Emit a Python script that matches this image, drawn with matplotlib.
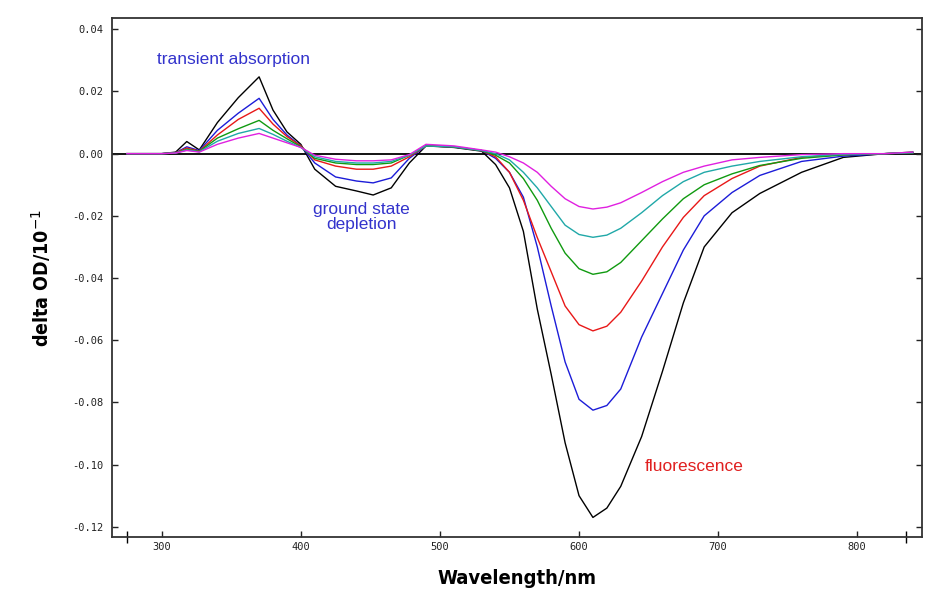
import matplotlib
matplotlib.use("Agg")
import matplotlib.pyplot as plt
from matplotlib.ticker import FixedLocator, FormatStrFormatter

plt.rcParams['axes.unicode_minus'] = False

wavelength = [275, 300, 310, 318, 327, 340, 355, 370, 380, 390, 400, 410, 425, 440, 452,
              465, 478, 490, 510, 530, 540, 550, 560, 570, 580, 590, 600, 610, 620, 630,
              645, 660, 675, 690, 710, 730, 760, 790, 820, 840]

od_black = [0, 0, 0.0005, 0.0039, 0.0012, 0.010, 0.018, 0.0247, 0.014, 0.007, 0.003, -0.005,
            -0.0105, -0.012, -0.0133, -0.011, -0.003, 0.0025, 0.002, 0.0008, -0.0035, -0.011,
            -0.025, -0.050, -0.071, -0.093, -0.110, -0.117, -0.114, -0.107, -0.091, -0.070,
            -0.048, -0.030, -0.019, -0.0128, -0.006, -0.0012, 0.0, 0.0005]
od_blue = [0, 0, 0.0003, 0.0022, 0.001, 0.0075, 0.013, 0.0178, 0.011, 0.006, 0.0025, -0.003,
           -0.0075, -0.0088, -0.0094, -0.0078, -0.0015, 0.0025, 0.0022, 0.001, -0.0015, -0.006,
           -0.014, -0.030, -0.049, -0.067, -0.079, -0.0825, -0.081, -0.0757, -0.059, -0.045,
           -0.031, -0.020, -0.0125, -0.007, -0.0025, -0.0008, 0.0, 0.0003]
od_red = [0, 0, 0.0003, 0.0018, 0.0008, 0.006, 0.011, 0.0146, 0.0095, 0.0055, 0.0025, -0.002,
          -0.004, -0.005, -0.005, -0.004, -0.001, 0.0025, 0.0022, 0.001, -0.001, -0.006,
          -0.015, -0.027, -0.038, -0.049, -0.055, -0.057, -0.0555, -0.051, -0.041, -0.030,
          -0.0205, -0.0135, -0.008, -0.004, -0.0012, -0.0003, 0.0, 0.0003]
od_green = [0, 0, 0.0002, 0.0014, 0.0007, 0.005, 0.008, 0.0107, 0.0075, 0.0048, 0.0022, -0.0015,
            -0.003, -0.0035, -0.0035, -0.003, -0.0005, 0.0025, 0.0022, 0.001, -0.0005, -0.003,
            -0.008, -0.015, -0.024, -0.032, -0.037, -0.0388, -0.038, -0.035, -0.028, -0.021,
            -0.0145, -0.010, -0.0065, -0.0038, -0.0015, -0.0004, 0.0, 0.0003]
od_cyan = [0, 0, 0.0002, 0.0012, 0.0006, 0.004, 0.0065, 0.0081, 0.0062, 0.004, 0.002, -0.001,
           -0.0025, -0.003, -0.003, -0.0025, -0.0005, 0.0025, 0.0022, 0.001, 0.0, -0.002,
           -0.006, -0.011, -0.017, -0.023, -0.026, -0.0269, -0.0262, -0.024, -0.019, -0.0135,
           -0.009, -0.006, -0.004, -0.0025, -0.001, -0.0002, 0.0, 0.0003]
od_magenta = [0, 0, 0.0002, 0.001, 0.0005, 0.003, 0.005, 0.0065, 0.005, 0.0035, 0.002, -0.0005,
              -0.0018, -0.0023, -0.0023, -0.002, -0.0003, 0.003, 0.0025, 0.0012, 0.0005, -0.001,
              -0.003, -0.006, -0.0105, -0.0145, -0.017, -0.0178, -0.0172, -0.0158, -0.0125, -0.009,
              -0.006, -0.004, -0.002, -0.0012, -0.0003, 0.0, 0.0, 0.0005]

series = [od_black, od_blue, od_red, od_green, od_cyan, od_magenta]
colors = ['#000000', '#1c1cd8', '#e81818', '#109a10', '#20a8a8', '#e020e0']

x_ticks = [300, 400, 500, 600, 700, 800]
x_edge_ticks = [275, 835]
y_ticks = [-0.12, -0.10, -0.08, -0.06, -0.04, -0.02, 0.00, 0.02, 0.04]

fig = plt.figure(figsize=(9.26, 5.94), dpi=100)
fig.patch.set_facecolor('white')
ax = fig.add_axes([0.1206, 0.0955, 0.9954 - 0.1206, 0.9697 - 0.0955])

ax.axhline(0, color='black', lw=1.3, zorder=1)
for s, c in zip(series, colors):
    ax.plot(wavelength, s, color=c, lw=1.0, zorder=2)

ax.set_xlim(264, 846.4)
ax.set_ylim(-0.12338, 0.04363)

ax.xaxis.set_major_locator(FixedLocator(x_ticks))
ax.xaxis.set_minor_locator(FixedLocator(x_edge_ticks))
ax.yaxis.set_major_locator(FixedLocator(y_ticks))
ax.yaxis.set_major_formatter(FormatStrFormatter('%.2f'))

mono = ['DejaVu Sans Mono']
ax.tick_params(axis='both', which='major', direction='in', length=4, width=1,
               labelsize=7.5, colors='#222222')
ax.tick_params(axis='y', right=True, pad=6)
ax.tick_params(axis='x', which='minor', direction='inout', length=8, width=1)
for lab in ax.get_xticklabels() + ax.get_yticklabels():
    lab.set_family(mono)

for sp in ax.spines.values():
    sp.set_linewidth(1.3)
    sp.set_color('#333333')

label_font = ['DejaVu Sans']
ax.set_xlabel('Wavelength/nm', family=label_font, fontweight='bold', fontstretch='condensed',
              fontsize=14.5, labelpad=12)
ax.set_ylabel(r'delta OD/10$^{-1}$', family=label_font, fontweight='bold',
              fontstretch='condensed', fontsize=14, labelpad=14)

ax.text(157 / 1.391 + 300 - 161.7 / 1.391, 0.0302, 'transient absorption', color='#3333cc',
        fontsize=12.5, family=['Liberation Sans', 'DejaVu Sans'], ha='left', va='center')
ax.text(361.5 / 1.391 + 300 - 161.7 / 1.391, -0.0205, 'ground state\ndepletion', color='#3333cc',
        fontsize=12.5, family=['Liberation Sans', 'DejaVu Sans'], ha='center', va='center',
        linespacing=1.0)
ax.text(645 / 1.391 + 300 - 161.7 / 1.391, -0.1006, 'fluorescence', color='#e02020',
        fontsize=12.5, family=['Liberation Sans', 'DejaVu Sans'], ha='left', va='center')

fig.savefig('out.png', dpi=100, facecolor='white')
